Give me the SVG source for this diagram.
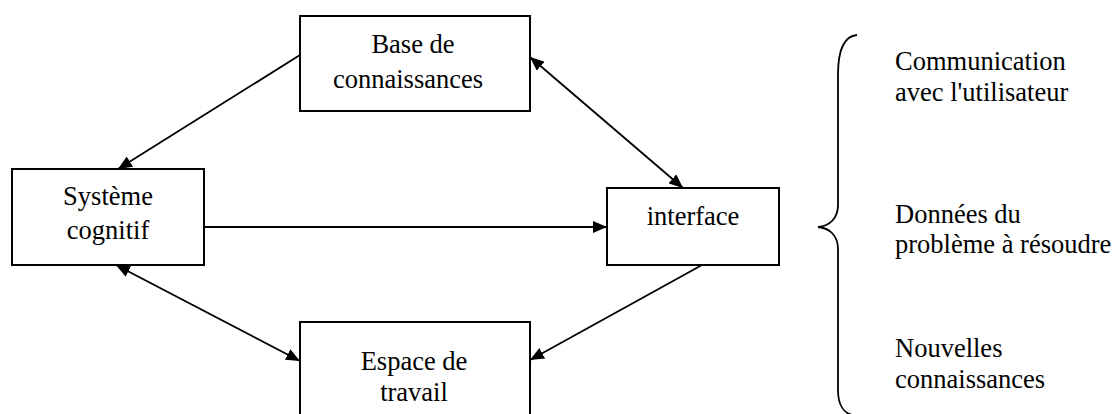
<svg xmlns="http://www.w3.org/2000/svg" width="1119" height="414" viewBox="0 0 1119 414">
<style>
.box{fill:#fff;stroke:#000;stroke-width:2}
.lbl{font-family:"Liberation Serif","Times New Roman",serif;font-size:26.5px;fill:#000}
.c{text-anchor:middle}
.edge{fill:none;stroke:#000;stroke-width:1.8}
</style>
<defs>
<marker id="ah" viewBox="0 0 14 12" refX="14" refY="6" markerWidth="14" markerHeight="12" markerUnits="userSpaceOnUse" orient="auto-start-reverse">
<path d="M0,0 L14,6 L0,12 Z" fill="#000"/>
</marker>
</defs>
<rect width="1119" height="414" fill="#fff"/>
<g id="connectors">
<line class="edge" x1="300" y1="55" x2="118" y2="169" marker-end="url(#ah)"/>
<line class="edge" x1="530" y1="57" x2="683" y2="188" marker-start="url(#ah)" marker-end="url(#ah)"/>
<line class="edge" x1="204" y1="227" x2="607" y2="227" marker-end="url(#ah)"/>
<line class="edge" x1="116" y1="265" x2="300" y2="361" marker-start="url(#ah)" marker-end="url(#ah)"/>
<line class="edge" x1="702" y1="265" x2="530" y2="360" marker-end="url(#ah)"/>
</g>
<g id="base">
<rect class="box" x="300" y="16" width="230" height="95"/>
<text class="lbl c" x="413" y="53">Base de</text>
<text class="lbl c" x="408" y="88">connaissances</text>
</g>
<g id="systeme">
<rect class="box" x="12" y="169" width="192" height="96"/>
<text class="lbl c" x="108" y="205">Système</text>
<text class="lbl c" x="108" y="239">cognitif</text>
</g>
<g id="interface">
<rect class="box" x="607" y="188" width="172" height="77"/>
<text class="lbl c" x="693" y="225">interface</text>
</g>
<g id="espace">
<rect class="box" x="300" y="322" width="230" height="100"/>
<text class="lbl c" x="414" y="370">Espace de</text>
<text class="lbl c" x="414" y="401">travail</text>
</g>
<g id="brace">
<path class="edge" d="M857,35 C844,36 838,50 838,75 L838,205 C838,218 830,226 818,227 C830,228 838,236 838,249 L838,390 C838,405 844,413 852,415"/>
</g>
<g id="notes">
<text class="lbl" x="895" y="70">Communication</text>
<text class="lbl" x="895" y="101">avec l'utilisateur</text>
<text class="lbl" x="895" y="223">Données du</text>
<text class="lbl" x="895" y="253">problème à résoudre</text>
<text class="lbl" x="895" y="357">Nouvelles</text>
<text class="lbl" x="895" y="388">connaissances</text>
</g>
</svg>
